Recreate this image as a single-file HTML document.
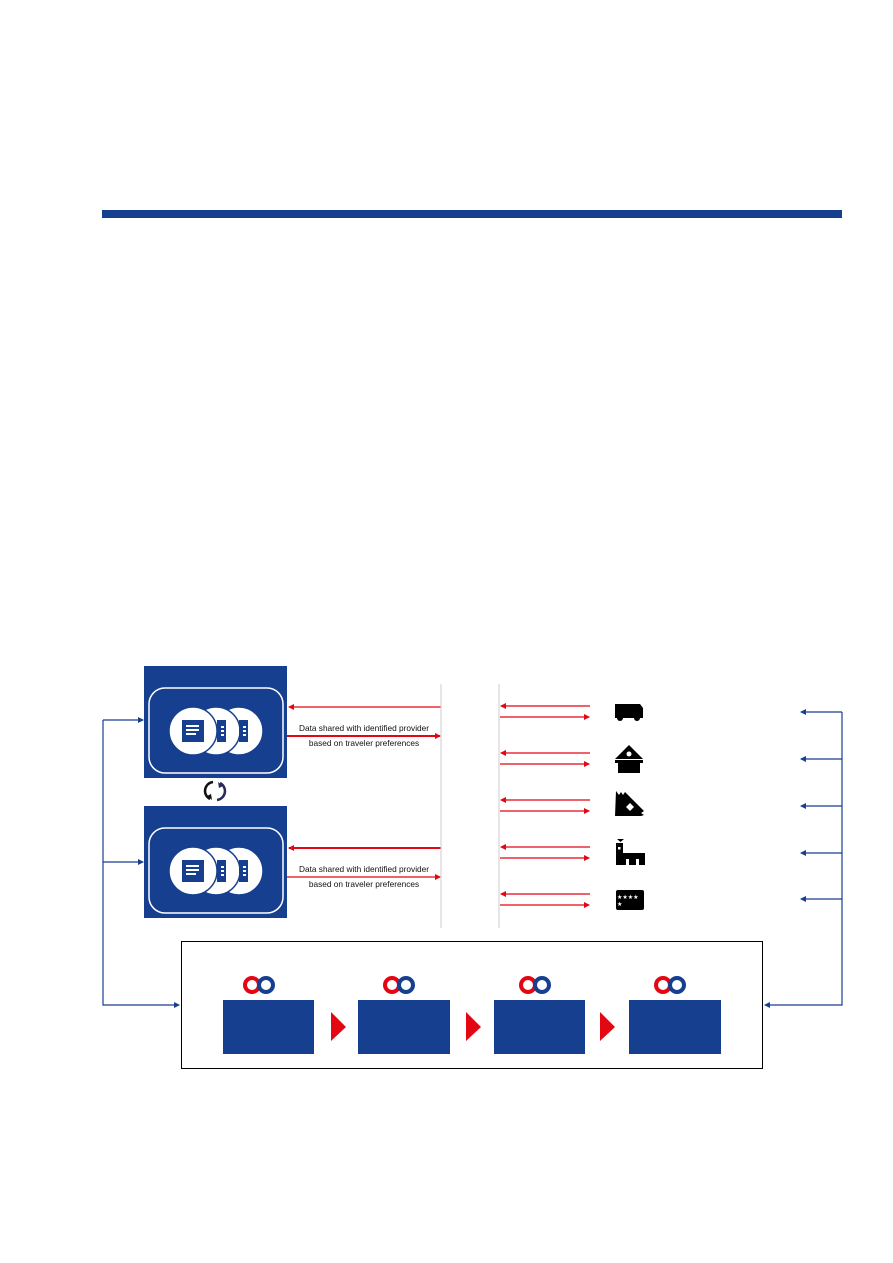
<!DOCTYPE html>
<html><head><meta charset="utf-8"><style>
html,body{margin:0;padding:0;background:#fff;}
svg{display:block;}
text{font-family:"Liberation Sans",sans-serif;}
</style></head><body>
<svg width="893" height="1263" viewBox="0 0 893 1263" xmlns="http://www.w3.org/2000/svg">
<defs>
<marker id="ar" markerWidth="6" markerHeight="6" refX="5" refY="3" orient="auto" markerUnits="userSpaceOnUse"><path d="M0,0 L6,3 L0,6 z" fill="#e30613"/></marker>
<marker id="ab" markerWidth="6" markerHeight="6" refX="5" refY="3" orient="auto" markerUnits="userSpaceOnUse"><path d="M0,0 L6,3 L0,6 z" fill="#173f8f"/></marker>
<g id="node">
<rect x="0" y="0" width="143" height="112" fill="#173f8f"/>
<rect x="5" y="22" width="134" height="85" rx="16" fill="none" stroke="#fff" stroke-width="1.5"/>
<circle cx="95" cy="65" r="24" fill="#fff" stroke="#173f8f" stroke-width="1.5"/>
<circle cx="72" cy="65" r="24" fill="#fff" stroke="#173f8f" stroke-width="1.5"/>
<circle cx="49" cy="65" r="24" fill="#fff" stroke="#173f8f" stroke-width="1.5"/>
<rect x="38" y="54" width="22" height="22" fill="#173f8f"/>
<rect x="42" y="59" width="13" height="2" fill="#fff"/><rect x="42" y="63" width="13" height="2" fill="#fff"/><rect x="42" y="67" width="10" height="2" fill="#fff"/>
<rect x="73" y="54" width="9" height="22" fill="#173f8f"/>
<rect x="77" y="60" width="3" height="2" fill="#fff"/><rect x="77" y="64" width="3" height="2" fill="#fff"/><rect x="77" y="68" width="3" height="2" fill="#fff"/>
<rect x="95" y="54" width="9" height="22" fill="#173f8f"/>
<rect x="99" y="60" width="3" height="2" fill="#fff"/><rect x="99" y="64" width="3" height="2" fill="#fff"/><rect x="99" y="68" width="3" height="2" fill="#fff"/>
</g>
<g id="logo">
<circle cx="0" cy="0" r="7" fill="none" stroke="#e30613" stroke-width="4"/>
<circle cx="14" cy="0" r="7" fill="none" stroke="#173f8f" stroke-width="4"/>
<path d="M0,-4 L4,0 L0,4 L-4,0z" fill="#fff"/>
</g>
</defs>
<rect x="102" y="210" width="740" height="8" fill="#173f8f"/>

<use href="#node" x="144" y="666"/>
<use href="#node" x="144" y="806"/>
<path d="M213,782 A9,9 0 0 0 210,799" fill="none" stroke="#111" stroke-width="2.5"/>
<path d="M207,796 l5,4 l-1,-6z" fill="#111"/>
<path d="M217,800 A9,9 0 0 0 220,783" fill="none" stroke="#2a2a5a" stroke-width="2.5"/>
<path d="M223,786 l-5,-4 l1,6z" fill="#2a2a5a"/>

<g stroke="#e30613" stroke-width="1.3">
<line x1="441" y1="707" x2="289" y2="707" marker-end="url(#ar)"/>
<line x1="287" y1="736" x2="440" y2="736" stroke-width="2" marker-end="url(#ar)"/>
<line x1="441" y1="848" x2="289" y2="848" stroke-width="2" marker-end="url(#ar)"/>
<line x1="287" y1="877" x2="440" y2="877" marker-end="url(#ar)"/>
</g>
<g font-size="8.3" fill="#111" text-anchor="middle">
<text x="364" y="731">Data shared with identified provider</text>
<text x="364" y="746">based on traveler preferences</text>
<text x="364" y="872">Data shared with identified provider</text>
<text x="364" y="887">based on traveler preferences</text>
</g>
<line x1="441" y1="684" x2="441" y2="928" stroke="#ccc"/>
<line x1="499" y1="684" x2="499" y2="928" stroke="#ccc"/>

<g stroke="#e30613" stroke-width="1.3">
<line x1="590" y1="706" x2="501" y2="706" marker-end="url(#ar)"/><line x1="500" y1="717" x2="589" y2="717" marker-end="url(#ar)"/>
<line x1="590" y1="753" x2="501" y2="753" marker-end="url(#ar)"/><line x1="500" y1="764" x2="589" y2="764" marker-end="url(#ar)"/>
<line x1="590" y1="800" x2="501" y2="800" marker-end="url(#ar)"/><line x1="500" y1="811" x2="589" y2="811" marker-end="url(#ar)"/>
<line x1="590" y1="847" x2="501" y2="847" marker-end="url(#ar)"/><line x1="500" y1="858" x2="589" y2="858" marker-end="url(#ar)"/>
<line x1="590" y1="894" x2="501" y2="894" marker-end="url(#ar)"/><line x1="500" y1="905" x2="589" y2="905" marker-end="url(#ar)"/>
</g>
<g fill="#000">
<path d="M615,704 h25 l3,4 v10 h-28z"/><circle cx="620" cy="718" r="3"/><circle cx="637" cy="718" r="3"/>
<path d="M615,759 L629,745 L643,759z"/><rect x="615" y="760" width="28" height="3"/><rect x="618" y="763" width="22" height="10"/><circle cx="629" cy="754" r="2.5" fill="#fff"/>
<path d="M616,791 l3,4 l2,-3 l2,3 l2,-3 l19,19 l-3,2 l3,2 l-3,1 h-26z"/><path d="M626,807 l4,-4 l4,4 l-4,4z" fill="#fff"/>
<path d="M617,839 h7 l-3.5,3z"/><rect x="616" y="843" width="7" height="22"/><rect x="616" y="853" width="29" height="12"/><rect x="618" y="847" width="2.5" height="2.5" fill="#fff"/><rect x="626" y="859" width="3" height="6" fill="#fff"/><rect x="636" y="859" width="3" height="6" fill="#fff"/>
<rect x="616" y="890" width="28" height="20" rx="2"/>
</g>
<text x="617" y="899" font-size="6" fill="#fff">★★★★</text>
<text x="617" y="906" font-size="6" fill="#fff">★</text>

<g stroke="#173f8f" stroke-width="1.2" fill="none">
<polyline points="842,712 842,1005 765,1005" marker-end="url(#ab)"/>
<line x1="842" y1="712" x2="801" y2="712" marker-end="url(#ab)"/>
<line x1="842" y1="759" x2="801" y2="759" marker-end="url(#ab)"/>
<line x1="842" y1="806" x2="801" y2="806" marker-end="url(#ab)"/>
<line x1="842" y1="853" x2="801" y2="853" marker-end="url(#ab)"/>
<line x1="842" y1="899" x2="801" y2="899" marker-end="url(#ab)"/>
<polyline points="103,720 103,1005 179,1005" marker-end="url(#ab)"/>
<line x1="103" y1="720" x2="143" y2="720" marker-end="url(#ab)"/>
<line x1="103" y1="862" x2="143" y2="862" marker-end="url(#ab)"/>
</g>

<rect x="181.5" y="941.5" width="581" height="127" fill="none" stroke="#000" stroke-width="1"/>
<rect x="223" y="1000" width="91" height="54" fill="#173f8f"/>
<rect x="358" y="1000" width="92" height="54" fill="#173f8f"/>
<rect x="494" y="1000" width="91" height="54" fill="#173f8f"/>
<rect x="629" y="1000" width="92" height="54" fill="#173f8f"/>
<path d="M331,1012 L346,1027 L331,1041z" fill="#e30613"/>
<path d="M466,1012 L481,1027 L466,1041z" fill="#e30613"/>
<path d="M600,1012 L615,1027 L600,1041z" fill="#e30613"/>
<use href="#logo" x="252" y="985"/>
<use href="#logo" x="392" y="985"/>
<use href="#logo" x="528" y="985"/>
<use href="#logo" x="663" y="985"/>
</svg>
</body></html>
